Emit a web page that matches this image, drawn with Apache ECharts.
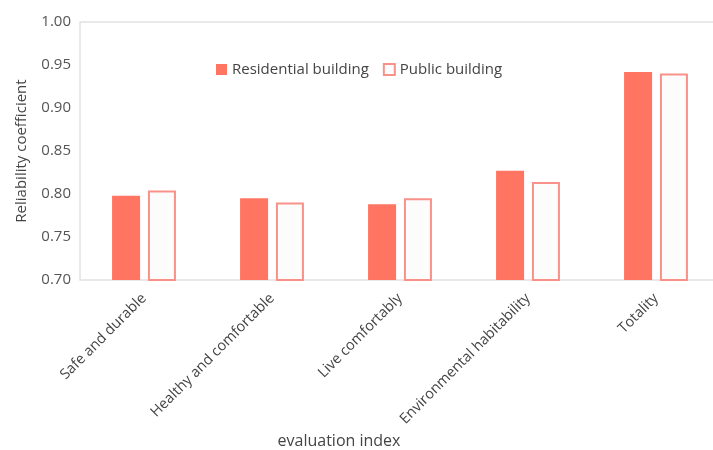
<!DOCTYPE html>
<html>
<head>
<meta charset="utf-8">
<style>
  html, body { margin: 0; padding: 0; background: #fff; }
  #chart { width: 713px; height: 450px; }
</style>
<script src="https://cdn.jsdelivr.net/npm/echarts@6/dist/echarts.min.js"></script>
</head>
<body>
<div id="chart"></div>
<script>
// 评价指标
var categories = ["Safe and durable", "Healthy and comfortable", "Live comfortably", "Environmental habitability", "Totality"];
var residential = [0.798, 0.795, 0.788, 0.827, 0.942];
var publicBuilding = [0.804, 0.790, 0.795, 0.814, 0.940];
var yTicks = [0.70, 0.75, 0.80, 0.85, 0.90, 0.95, 1.00];

var chart = echarts.init(document.getElementById("chart"));
var font = "Open Sans";
var option = {
  animation: false,
  textStyle: { fontFamily: font },
  grid: {
    show: true,
    left: 80,
    top: 22,
    right: -7,
    bottom: 170,
    outerBoundsMode: "none",
    containLabel: false,
    borderColor: "#e2e2e2",
    borderWidth: 1.5
  },
  legend: {
    left: 211,
    top: 57,
    itemWidth: 11,
    itemHeight: 11,
    itemGap: 14,
    icon: "rect",
    textStyle: { fontSize: 15, color: "#444", fontFamily: font },
    data: ["Residential building", "Public building"]
  },
  xAxis: {
    type: "category",
    data: categories,
    name: "evaluation index",
    nameLocation: "middle",
    nameGap: 153,
    nameTextStyle: { fontSize: 16, color: "#444", padding: [0, 122, 0, 0] },
    axisLine: { show: false },
    axisTick: { show: false },
    axisLabel: { rotate: 45, fontSize: 14.5, color: "#444", margin: 16, interval: 0 }
  },
  yAxis: {
    type: "value",
    min: yTicks[0],
    max: yTicks[yTicks.length - 1],
    interval: 0.05,
    name: "Reliability coefficient",
    nameLocation: "middle",
    nameGap: 51,
    nameTextStyle: { fontSize: 15, color: "#444" },
    axisLine: { show: false },
    axisTick: { show: false },
    splitLine: { show: false },
    axisLabel: {
      fontSize: 15,
      color: "#555",
      margin: 9,
      formatter: function (v) { return v.toFixed(2); }
    }
  },
  series: [
    {
      name: "Residential building",
      type: "bar",
      data: residential,
      barWidth: 28,
      barGap: "28%",
      itemStyle: { color: "#ff7562" }
    },
    {
      name: "Public building",
      type: "bar",
      data: publicBuilding,
      barWidth: 28,
      itemStyle: { color: "#fcfcfc", borderColor: "#f7918a", borderWidth: 2 }
    }
  ]
};
chart.setOption(option);
</script>
</body>
</html>
